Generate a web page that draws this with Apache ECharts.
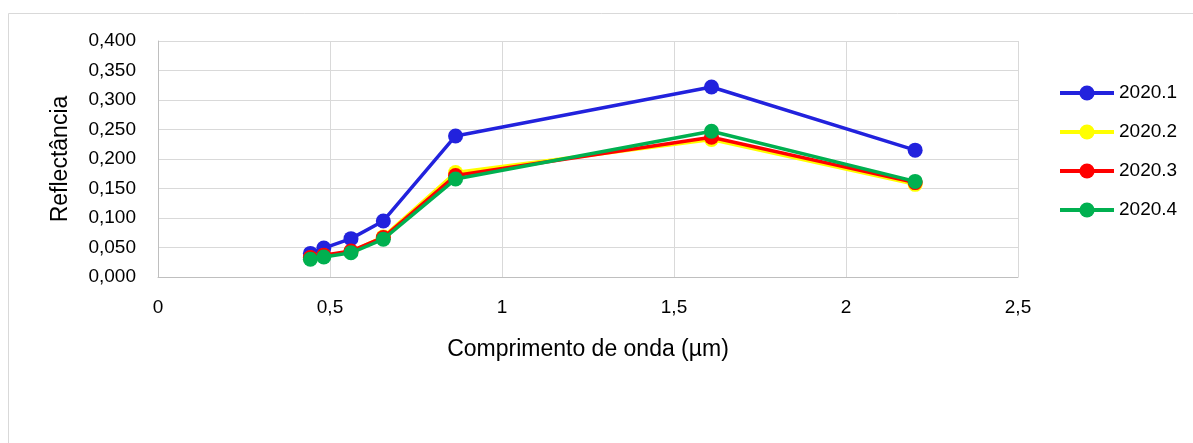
<!DOCTYPE html>
<html><head><meta charset="utf-8">
<script src="https://cdn.jsdelivr.net/npm/echarts@6/dist/echarts.min.js"></script>
<style>html,body{margin:0;padding:0;background:#fff}#c{width:1193px;height:443px}</style>
</head><body><div id="c"></div>
<script>
const wavelengths = [0.443, 0.482, 0.561, 0.655, 0.865, 1.609, 2.201];
const s2020_1 = [0.040, 0.049, 0.065, 0.095, 0.239, 0.322, 0.215];
const s2020_2 = [0.032, 0.036, 0.043, 0.068, 0.177, 0.233, 0.157];
const s2020_3 = [0.033, 0.037, 0.044, 0.067, 0.172, 0.237, 0.160];
const s2020_4 = [0.030, 0.034, 0.041, 0.064, 0.166, 0.247, 0.162];
const seriesNames = ['2020.1', '2020.2', '2020.3', '2020.4'];
const seriesColors = ['#2222DD', '#FFFF00', '#FF0000', '#00B050'];
const allSeries = [s2020_1, s2020_2, s2020_3, s2020_4];

const font = 'Liberation Sans';
const chart = echarts.init(document.getElementById('c'), null, {renderer: 'canvas'});
chart.setOption({
  backgroundColor: '#fff',
  animation: false,
  graphic: [{type: 'rect', shape: {x: 8.5, y: 13.5, width: 1200, height: 500}, style: {fill: 'none', stroke: '#D9D9D9', lineWidth: 1}, silent: true, z: -1}],
  grid: {left: 158, top: 41, right: 175, bottom: 166, containLabel: false},
  legend: {
    orient: 'vertical', left: 1053, top: 78, itemWidth: 54, itemHeight: 19, itemGap: 19,
    lineStyle: {width: 4},
    textStyle: {fontFamily: font, fontSize: 19, lineHeight: 20, color: '#000'},
    data: seriesNames
  },
  xAxis: {
    type: 'value', min: 0, max: 2.5, interval: 0.5,
    name: 'Comprimento de onda (µm)', nameLocation: 'middle', nameGap: 61,
    nameTextStyle: {fontFamily: font, fontSize: 23, color: '#000'},
    axisLine: {show: true, lineStyle: {color: '#BFBFBF'}},
    axisTick: {show: false},
    axisLabel: {fontFamily: font, fontSize: 19, color: '#000', margin: 21, formatter: v => String(v).replace('.', ',')},
    splitLine: {show: true, lineStyle: {color: '#D9D9D9'}}
  },
  yAxis: {
    type: 'value', min: 0, max: 0.4, interval: 0.05,
    name: 'Reflectância', nameLocation: 'middle', nameGap: 86, nameRotate: 90,
    nameTextStyle: {fontFamily: font, fontSize: 23, color: '#000'},
    axisLine: {show: true, lineStyle: {color: '#BFBFBF'}},
    axisTick: {show: false},
    axisLabel: {fontFamily: font, fontSize: 19, color: '#000', margin: 22, formatter: v => v.toFixed(3).replace('.', ',')},
    splitLine: {show: true, lineStyle: {color: '#D9D9D9'}}
  },
  series: allSeries.map((vals, i) => ({
    name: seriesNames[i], type: 'line',
    data: wavelengths.map((w, j) => [w, vals[j]]),
    symbol: 'circle', symbolSize: 15, showSymbol: true,
    lineStyle: {width: 3.5, color: seriesColors[i]},
    itemStyle: {color: seriesColors[i]},
    z: 2 + i
  }))
});
</script></body></html>
